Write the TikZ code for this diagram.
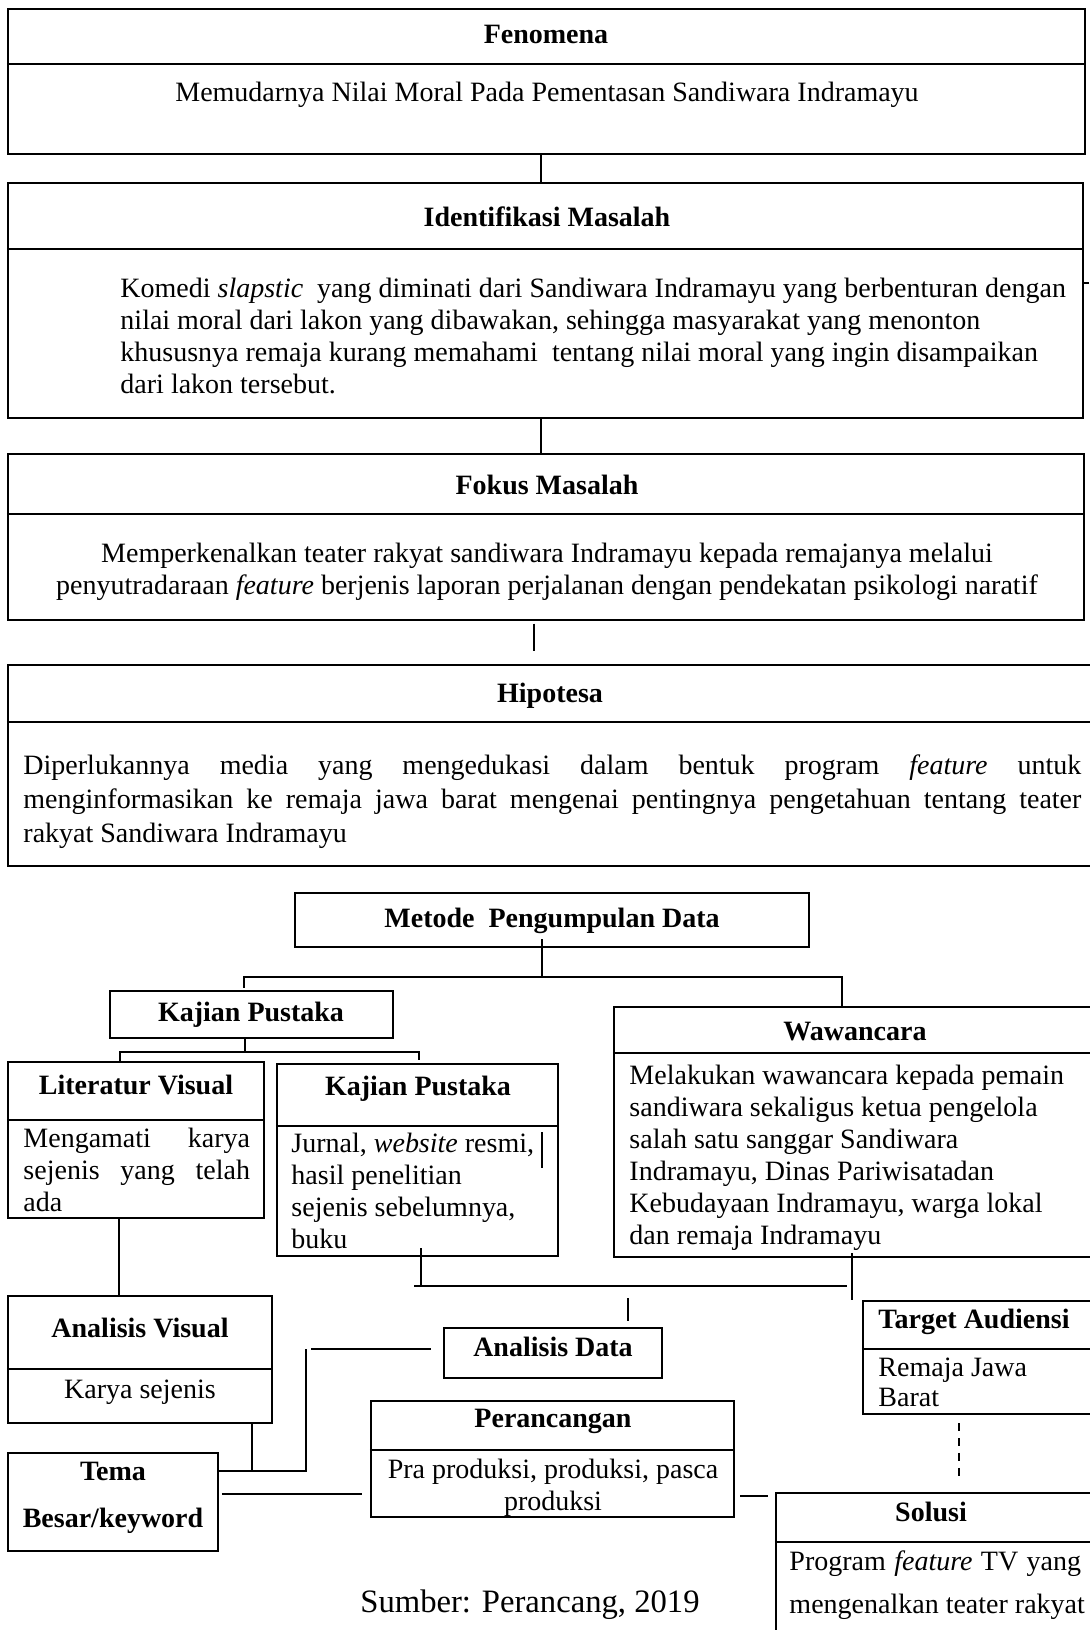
\documentclass[tikz,border=0pt]{standalone}
\usepackage{fontspec}
\setmainfont{Liberation Serif}
\usetikzlibrary{fit}

\tikzset{
  box/.style={rectangle, draw, line width=1pt, inner sep=0pt},
  divider/.style={line width=1pt},
  head/.style={font=\fontsize{12}{13.7}\selectfont\bfseries, inner sep=0pt},
  txt/.style={font=\fontsize{12}{13.7}\selectfont, inner sep=0pt},
  link/.style={line width=0.7pt},
}

\begin{document}
\begin{tikzpicture}[x=0.4286pt, y=-0.4286pt]
    \useasboundingbox (0,0) rectangle (1089,1630);

    % upper column
    \node (fen) [box, fit={(8,9) (1085,154)}] {};
    \draw [divider] (fen.west |- 0,64) -- (fen.east |- 0,64);
    \node (fenT) [head] at (546,34) {Fenomena};
    \node (fenB) [txt] at (547,95) {Memudarnya Nilai Moral Pada Pementasan Sandiwara Indramayu};

    \node (idt) [box, fit={(8,183) (1083,418)}] {};
    \draw [divider] (idt.west |- 0,249) -- (idt.east |- 0,249);
    \node (idtT) [head] at (547,217) {Identifikasi Masalah};
    \node (idtB) [txt, align=left, anchor=north west] at (120,278) {Komedi \textit{slapstic}\ \ yang diminati dari Sandiwara Indramayu yang berbenturan dengan\\
        nilai moral dari lakon yang dibawakan, sehingga masyarakat yang menonton\\
        khususnya remaja kurang memahami\ \ tentang nilai moral yang ingin disampaikan\\
        dari lakon tersebut.};
    \draw [link] (idt.east |- 0,283) -- (1089,283);

    \node (fok) [box, fit={(8,454) (1084,620)}] {};
    \draw [divider] (fok.west |- 0,514) -- (fok.east |- 0,514);
    \node (fokT) [head] at (547,485) {Fokus Masalah};
    \node (fokB) [txt, align=center] at (547,572) {Memperkenalkan teater rakyat sandiwara Indramayu kepada remajanya melalui\\
        penyutradaraan \textit{feature} berjenis laporan perjalanan dengan pendekatan psikologi naratif};

    \node (hip) [box, fit={(8,665) (1100,866)}] {};
    \draw [divider] (hip.west |- 0,722) -- (hip.east |- 0,722);
    \node (hipT) [head] at (550,696) {Hipotesa};
    \node (hipB) [txt, font=\fontsize{12}{14.7}\selectfont, align=left, anchor=north west] at (23,754) {\makebox[453.4pt][s]{Diperlukannya media yang mengedukasi dalam bentuk program \textit{feature} untuk}\\
        \makebox[453.4pt][s]{menginformasikan ke remaja jawa barat mengenai pentingnya pengetahuan tentang teater}\\
        rakyat Sandiwara Indramayu};

    \draw [link] (fen.south -| 541,0) -- (idt.north -| 541,0);
    \draw [link] (idt.south -| 541,0) -- (fok.north -| 541,0);
    \draw [link, shorten <=1pt, shorten >=5.5pt] (fok.south -| 534,0) -- (hip.north -| 534,0);

    % metode pengumpulan data
    \node (met) [box, fit={(295,893) (809,947)}] {};
    \node (metT) [head] at (552,921) {Metode\ \ Pengumpulan Data};

    \node (kaj) [box, fit={(110,991) (393,1038)}] {};
    \node (kajT) [head] at (251,1015) {Kajian Pustaka};

    \node (lv) [box, fit={(8,1062) (264,1218)}] {};
    \draw [divider] (lv.west |- 0,1120) -- (lv.east |- 0,1120);
    \node (lvT) [head] at (136,1085) {Literatur Visual};
    \node (lvB) [txt, align=left, anchor=north west] at (23,1128) {\makebox[97.1pt][s]{Mengamati karya}\\
        \makebox[97.1pt][s]{sejenis yang telah}\\
        ada};

    \node (kp2) [box, fit={(277,1064) (558,1256)}] {};
    \draw [divider] (kp2.west |- 0,1126) -- (kp2.east |- 0,1126);
    \node (kp2T) [head] at (418,1089) {Kajian Pustaka};
    \node (kp2B) [txt, align=left, anchor=north west] at (291,1133) {Jurnal, \textit{website} resmi,\\
        hasil penelitian\\
        sejenis sebelumnya,\\
        buku};
    \draw [link] (542,1132) -- (542,1168);

    \node (wwc) [box, fit={(614,1007) (1100,1257)}] {};
    \draw [divider] (wwc.west |- 0,1053) -- (wwc.east |- 0,1053);
    \node (wwcT) [head] at (855,1032) {Wawancara};
    \node (wwcB) [txt, align=left, anchor=north west] at (629,1065) {Melakukan wawancara kepada pemain\\
        sandiwara sekaligus ketua pengelola\\
        salah satu sanggar Sandiwara\\
        Indramayu, Dinas Pariwisatadan\\
        Kebudayaan Indramayu, warga lokal\\
        dan remaja Indramayu};

    \coordinate (m1) at (542,977);
    \coordinate (k1) at (245,1052);
    \draw [link, shorten <=-3.8pt] (met.south -| 542,0) -- (m1);
    \draw [link, shorten <=1pt] (kaj.north -| 244,0) |- (m1) -| (wwc.north -| 842,0);
    \draw [link] (kaj.south -| 245,0) -- (k1);
    \draw [link, shorten >=1.4pt] (lv.north -| 120,0) |- (k1) -| (kp2.north -| 419,0);

    % analisis
    \node (av) [box, fit={(8,1296) (272,1423)}] {};
    \draw [divider] (av.west |- 0,1369) -- (av.east |- 0,1369);
    \node (avT) [head] at (140,1328) {Analisis Visual};
    \node (avB) [txt] at (140,1392) {Karya sejenis};

    \node (ad) [box, fit={(444,1328) (662,1378)}] {};
    \node (adT) [head] at (553,1347) {Analisis Data};

    \node (tgt) [box, fit={(863,1301) (1100,1414)}] {};
    \draw [divider] (tgt.west |- 0,1349) -- (tgt.east |- 0,1349);
    \node (tgtT) [head] at (974,1322) {Target Audiensi};
    \node (tgtB) [txt, font=\fontsize{12}{13.2}\selectfont, align=left, anchor=north west] at (878,1357) {Remaja Jawa\\ Barat};

    \node (tem) [box, fit={(8,1453) (218,1551)}] {};
    \node (temT) [head, align=center] at (113,1498) {Tema\\[6.3pt] Besar/keyword};

    \node (per) [box, fit={(371,1401) (734,1517)}] {};
    \draw [divider] (per.west |- 0,1450) -- (per.east |- 0,1450);
    \node (perT) [head] at (553,1421) {Perancangan};
    \node (perB) [txt, align=center] at (553,1488) {Pra produksi, produksi, pasca\\ produksi};

    \node (sol) [box, fit={(776,1493) (1100,1700)}] {};
    \draw [divider] (sol.west |- 0,1542) -- (sol.east |- 0,1542);
    \node (solT) [head] at (931,1512) {Solusi};
    \node (solB) [txt, align=left, anchor=north west] at (789,1550) {\makebox[125pt][s]{Program \textit{feature} TV yang}\\[5pt]
        mengenalkan teater rakyat};

    \coordinate (j1) at (414,1286);
    \coordinate (j2) at (847,1286);
    \coordinate (a1) at (628,1298);
    \coordinate (t1) at (306,1349);
    \draw [link] (lv.south -| 119,0) -- (av.north -| 119,0);
    \draw [link, shorten <=-3.9pt] (kp2.south -| 421,0) -- (421,1287);
    \draw [link] (j1) -- (j2);
    \draw [link, shorten <=-2.2pt] (wwc.south -| 852,0) -- (tgt.north -| 852,0);
    \draw [link, shorten >=2.6pt] (a1) -- (ad.north -| 628,0);
    \draw [link] (av.south -| 252,0) -- (252,1471);
    \draw [link] (tem.east |- 0,1471) -| (t1);
    \draw [link, shorten <=5.1pt, shorten >=2pt] (ad.west |- 0,1349) -- (t1);
    \draw [link, shorten <=1.2pt, shorten >=3.4pt] (tem.east |- 0,1494) -- (per.west |- 0,1494);
    \draw [link, shorten <=2.2pt, shorten >=2.8pt] (per.east |- 0,1496) -- (sol.west |- 0,1496);
    \draw [link, dash pattern=on 3.4pt off 3pt, shorten <=3.4pt, shorten >=4.7pt] (tgt.south -| 959,0) -- (sol.north -| 959,0);

    \node (src) [font=\fontsize{14}{16}\selectfont, inner sep=0pt] at (530,1605) {Sumber: Perancang, 2019};
\end{tikzpicture}
\end{document}
